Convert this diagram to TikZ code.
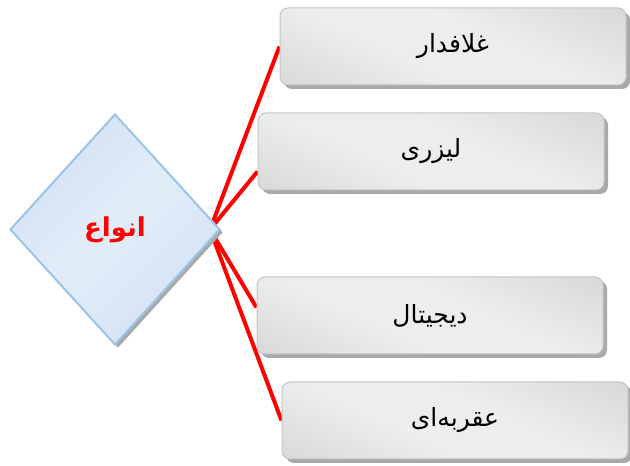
\documentclass[tikz,border=0pt]{standalone}
\usepackage{fontspec}
\newfontfamily\fa[Script=Arabic]{DejaVu Sans}
\TeXXeTstate=1
\usetikzlibrary{shapes.geometric,shadows,backgrounds}
\definecolor{bxdark}{HTML}{CACACA}
\definecolor{bxlight}{HTML}{EDEDED}
\definecolor{bxborder}{HTML}{C4C4C4}
\definecolor{dmdark}{HTML}{BFD5EE}
\definecolor{dmlight}{HTML}{E0EBF8}
\definecolor{dmborder}{HTML}{9DC3E6}
\definecolor{shadowgray}{HTML}{A9A9A9}
\pgfdeclareverticalshading{boxshade}{100bp}{color(0bp)=(bxdark); color(40bp)=(bxlight); color(58bp)=(bxlight); color(100bp)=(bxdark)}
\pgfdeclareverticalshading{dmshade}{100bp}{color(0bp)=(dmdark); color(45bp)=(dmlight); color(55bp)=(dmlight); color(100bp)=(dmdark)}
\tikzset{
  itembox/.style={rectangle, rounded corners=8pt, minimum width=346pt, minimum height=77pt,
    draw=bxborder, line width=1pt, shading=boxshade, shading angle=-25,
    drop shadow={shadow xshift=4pt, shadow yshift=-4pt, fill=shadowgray, opacity=1},
    font=\fa\fontsize{25}{30}\selectfont, text=black},
  mainshape/.style={diamond, minimum width=210pt, minimum height=231pt, inner sep=0pt,
    draw=dmborder, line width=2pt, shading=dmshade, shading angle=45,
    drop shadow={shadow xshift=3pt, shadow yshift=-3pt, fill=shadowgray, opacity=1},
    font=\fa\bfseries\fontsize{26}{30}\selectfont, text=red},
  redline/.style={draw=red, line width=4pt}
}
\begin{document}
\begin{tikzpicture}[x=1pt,y=1pt]
\useasboundingbox (0,0) rectangle (630,466);
\node[mainshape] (d) at (115,236.5) {\beginR انواع\endR};
\node[itembox] (b1) at (453,419.5) {\beginR غلافدار\endR};
\node[itembox] (b2) at (431,314.5) {\beginR لیزری\endR};
\node[itembox] (b3) at (430,150.5) {\beginR دیجیتال\endR};
\node[itembox] (b4) at (455,45.5) {\beginR عقربه‌ای\endR};
\coordinate (s) at ([xshift=-11pt]d.east);
\begin{scope}[on background layer]
\draw[redline] (s) -- (b1.west);
\draw[redline] (s) -- ([yshift=-20pt]b2.west);
\draw[redline] (s) -- ([yshift=8pt]b3.west);
\draw[redline] (s) -- (b4.west);
\end{scope}
\end{tikzpicture}
\end{document}
